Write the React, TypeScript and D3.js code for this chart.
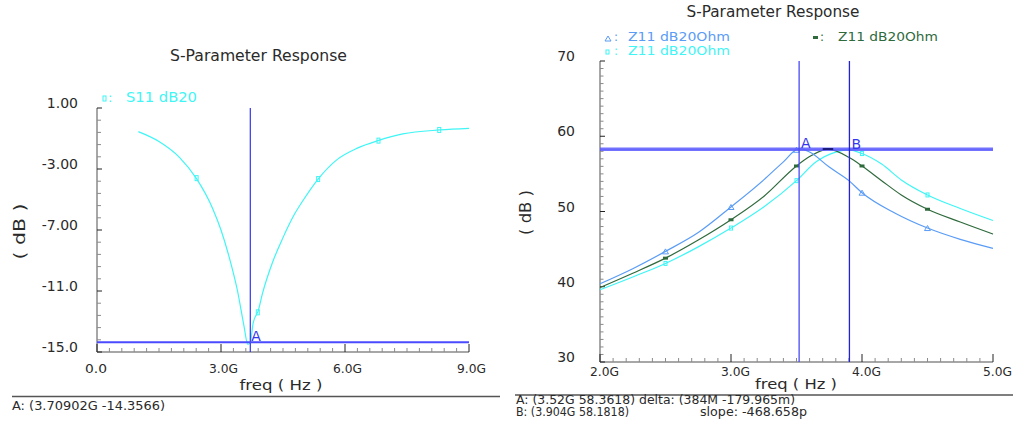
import React from "react";
import * as d3 from "d3";

// ---------- Left panel data: S11 dB20 ----------
const s11Freq = [1.0, 1.5, 2.0, 2.4, 2.8, 3.0, 3.2, 3.4, 3.55, 3.65, 3.71, 3.78, 3.9, 4.0, 4.25, 4.5, 4.75, 5.0, 5.35, 5.8, 6.3, 6.8, 7.4, 8.3, 9.0];
const s11dB = [-0.55, -1.2, -2.25, -3.6, -5.6, -7.0, -8.8, -11.0, -13.2, -14.5, -14.36, -13.07, -12.3, -11.2, -9.1, -7.5, -6.1, -5.0, -3.66, -2.4, -1.63, -1.14, -0.7, -0.44, -0.33];
const s11MarkFreq = [2.41, 3.89, 5.35, 6.81, 8.28];
const s11MarkdB = [-3.6, -12.4, -3.66, -1.14, -0.44];
const leftYTicks = [1.0, -3.0, -7.0, -11.0, -15.0];
const leftYTickLabels = ["1.00", "-3.00", "-7.00", "-11.0", "-15.0"];
const leftXTicks = [0, 3, 6, 9];
const leftXTickLabels = ["0.0", "3.0G", "6.0G", "9.0G"];
const markerA_left = { f: 3.70902, v: -14.3566 };

// ---------- Right panel data: Z11 dB20Ohm (three series) ----------
const blueFreq = [2.0, 2.25, 2.5, 2.75, 3.0, 3.25, 3.4, 3.52, 3.6, 3.75, 3.9, 4.0, 4.25, 4.5, 4.75, 5.0];
const blueVal = [40.4, 42.4, 44.7, 47.2, 50.6, 54.2, 56.6, 58.36, 57.9, 55.9, 54.1, 52.5, 49.8, 47.8, 46.3, 45.1];
const greenFreq = [2.0, 2.25, 2.5, 2.75, 3.0, 3.25, 3.5, 3.6, 3.74, 3.9, 4.0, 4.15, 4.3, 4.5, 4.75, 5.0];
const greenVal = [39.9, 41.8, 43.8, 46.2, 48.9, 52.0, 56.05, 57.3, 58.3, 57.2, 56.05, 54.1, 52.2, 50.3, 48.6, 47.0];
const cyanFreq = [2.0, 2.25, 2.5, 2.75, 3.0, 3.25, 3.5, 3.65, 3.8, 3.9, 4.0, 4.15, 4.3, 4.5, 4.75, 5.0];
const cyanVal = [39.6, 41.3, 43.1, 45.3, 47.8, 50.6, 54.1, 56.6, 57.9, 58.18, 57.7, 56.3, 54.2, 52.2, 50.4, 48.8];
const blueMarkFreq = [2.5, 3.0, 3.5, 4.0, 4.5];
const blueMarkVal = [44.7, 50.6, 58.2, 52.5, 47.8];
const greenMarkFreq = [2.5, 3.0, 3.5, 4.0, 4.5];
const greenMarkVal = [43.8, 48.9, 56.05, 56.05, 50.3];
const cyanMarkFreq = [2.5, 3.0, 3.5, 4.0, 4.5];
const cyanMarkVal = [43.1, 47.8, 54.1, 57.7, 52.2];
const rightYTicks = [70, 60, 50, 40, 30];
const rightXTicks = [2, 3, 4, 5];
const rightXTickLabels = ["2.0G", "3.0G", "4.0G", "5.0G"];
const markerA_right = { f: 3.52, v: 58.3618 };
const markerB_right = { f: 3.904, v: 58.1818 };

const FONT = "'DejaVu Sans', 'Liberation Sans', sans-serif";
const TXT = "#2a2a2a";
const AXIS = "#8a8a8a";
const CYAN = "#3ff5f5";
const BLUE = "#5a9cf6";
const GREEN = "#2f6a3d";
const MARK = "#3535f0";

function zipXY(xs: number[], ys: number[]) {
  return xs.map((x, i) => [x, ys[i]] as [number, number]);
}

export default function App() {
  const lx = d3.scaleLinear().domain([0, 9]).range([97, 469]);
  const ly = d3.scaleLinear().domain([1, -15]).range([108, 352]);
  const rx = d3.scaleLinear().domain([2, 5]).range([600, 993]);
  const ry = d3.scaleLinear().domain([70, 30]).range([61, 362]);

  const lLine = d3.line<[number, number]>().x(d => lx(d[0])).y(d => ly(d[1])).curve(d3.curveMonotoneX);
  const rLine = d3.line<[number, number]>().x(d => rx(d[0])).y(d => ry(d[1])).curve(d3.curveMonotoneX);

  const lyMinor = d3.range(0, 21).map(i => 1 - i * 0.8);
  const lxMinor = d3.range(0, 31).map(i => i * 0.3);
  const ryMinor = d3.range(0, 41).map(i => 30 + i);
  const rxMinor = d3.range(0, 31).map(i => 2 + i * 0.1);

  const isMajor = (v: number, majors: number[]) => majors.some(m => Math.abs(m - v) < 1e-6);
  const xLabelLen = (s: string) => (s.endsWith("G") ? 29 : 22);

  return (
    <svg width={1013} height={421} style={{ position: "absolute", left: 0, top: 0, background: "#fff" }} fontFamily={FONT}>
      {/* ================= LEFT PANEL ================= */}
      <text x={258.5} y={61} textAnchor="middle" fontSize={15} fill={TXT} textLength={177} lengthAdjust="spacingAndGlyphs">S-Parameter Response</text>
      <rect x={103} y={96} width={3} height={5} fill="none" stroke={CYAN} strokeWidth={1} />
      <text x={108} y={101.5} fontSize={13} fill={CYAN}>:</text>
      <text x={126} y={101.5} fontSize={14} fill={CYAN} textLength={71} lengthAdjust="spacingAndGlyphs">S11 dB20</text>

      <line x1={97} y1={108} x2={97} y2={352} stroke={AXIS} strokeWidth={1.5} />
      <line x1={97} y1={352} x2={469} y2={352} stroke={AXIS} strokeWidth={1.5} />
      {lyMinor.map((v, i) => {
        const maj = isMajor(v, leftYTicks);
        return <line key={"lym" + i} x1={97} x2={97 + (maj ? 5 : 4)} y1={ly(v)} y2={ly(v)} stroke={maj ? "#222" : AXIS} strokeWidth={1} />;
      })}
      {lxMinor.map((v, i) => {
        const maj = isMajor(v, leftXTicks);
        return <line key={"lxm" + i} x1={lx(v)} x2={lx(v)} y1={352} y2={352 - (maj ? 8 : 4)} stroke={maj ? "#222" : AXIS} strokeWidth={1} />;
      })}
      {leftYTicks.map((v, i) => (
        <text key={"lyt" + i} x={78} y={ly(v)} textAnchor="end" fontSize={14} fill={TXT}>{leftYTickLabels[i]}</text>
      ))}
      {leftXTicks.map((v, i) => (
        <text key={"lxt" + i} x={lx(v) - 12} y={373} fontSize={13} fill={TXT} textLength={xLabelLen(leftXTickLabels[i])} lengthAdjust="spacingAndGlyphs">{leftXTickLabels[i]}</text>
      ))}
      <text x={281} y={390} textAnchor="middle" fontSize={14} fill={TXT} textLength={83} lengthAdjust="spacingAndGlyphs">freq ( Hz )</text>
      <text transform="translate(25,231.5) rotate(-90)" textAnchor="middle" fontSize={15} fill={TXT} textLength={56} lengthAdjust="spacingAndGlyphs">( dB )</text>

      <path d={lLine(zipXY(s11Freq, s11dB)) || ""} fill="none" stroke={CYAN} strokeWidth={1.2} />
      {s11MarkFreq.map((f, i) => (
        <rect key={"s11m" + i} x={lx(f) - 1.5} y={ly(s11MarkdB[i]) - 2.5} width={3} height={5} fill="none" stroke={CYAN} strokeWidth={1} />
      ))}
      <line x1={lx(markerA_left.f)} x2={lx(markerA_left.f)} y1={108} y2={352} stroke={MARK} strokeWidth={1.2} />
      <line x1={97} x2={469} y1={ly(markerA_left.v)} y2={ly(markerA_left.v)} stroke="#4a4aff" strokeWidth={2} />
      <text x={lx(markerA_left.f) + 1} y={ly(markerA_left.v) - 1} fontSize={14} fill={MARK}>A</text>

      <line x1={12} x2={500} y1={396.5} y2={396.5} stroke="#555" strokeWidth={1.5} />
      <text x={12} y={410} fontSize={12} fill={TXT} textLength={153} lengthAdjust="spacingAndGlyphs">A: (3.70902G -14.3566)</text>

      {/* ================= RIGHT PANEL ================= */}
      <text x={773} y={17} textAnchor="middle" fontSize={15} fill={TXT} textLength={173} lengthAdjust="spacingAndGlyphs">S-Parameter Response</text>
      <path d="M605,41 L608,36 L611,41 Z" fill="none" stroke={BLUE} strokeWidth={1} />
      <text x={614} y={41} fontSize={12} fill={BLUE}>:</text>
      <text x={628} y={41} fontSize={13} fill={BLUE} textLength={102} lengthAdjust="spacingAndGlyphs">Z11 dB20Ohm</text>
      <rect x={606} y={50} width={3} height={4} fill="none" stroke={CYAN} strokeWidth={1} />
      <text x={614} y={54.5} fontSize={12} fill={CYAN}>:</text>
      <text x={628} y={54.5} fontSize={13} fill={CYAN} textLength={102} lengthAdjust="spacingAndGlyphs">Z11 dB20Ohm</text>
      <rect x={813} y={36} width={5} height={3} fill={GREEN} />
      <text x={820} y={41} fontSize={12} fill={GREEN}>:</text>
      <text x={838} y={41} fontSize={13} fill={GREEN} textLength={100} lengthAdjust="spacingAndGlyphs">Z11 dB20Ohm</text>

      <line x1={600} y1={61} x2={600} y2={362} stroke={AXIS} strokeWidth={1.5} />
      <line x1={600} y1={362} x2={993} y2={362} stroke={AXIS} strokeWidth={1.5} />
      {ryMinor.map((v, i) => {
        const maj = isMajor(v, rightYTicks);
        return <line key={"rym" + i} x1={600} x2={600 + (maj ? 5 : 3.5)} y1={ry(v)} y2={ry(v)} stroke={maj ? "#222" : AXIS} strokeWidth={1} />;
      })}
      {rxMinor.map((v, i) => {
        const maj = isMajor(v, rightXTicks);
        return <line key={"rxm" + i} x1={rx(v)} x2={rx(v)} y1={362} y2={362 - (maj ? 8 : 4)} stroke={maj ? "#222" : AXIS} strokeWidth={1} />;
      })}
      {rightYTicks.map((v, i) => (
        <text key={"ryt" + i} x={575} y={ry(v)} textAnchor="end" fontSize={14} fill={TXT}>{String(v)}</text>
      ))}
      {rightXTicks.map((v, i) => (
        <text key={"rxt" + i} x={rx(v) - 10} y={376} fontSize={13} fill={TXT} textLength={29} lengthAdjust="spacingAndGlyphs">{rightXTickLabels[i]}</text>
      ))}
      <text x={796} y={388.5} textAnchor="middle" fontSize={14} fill={TXT} textLength={82} lengthAdjust="spacingAndGlyphs">freq ( Hz )</text>
      <text transform="translate(531,212.5) rotate(-90)" textAnchor="middle" fontSize={15} fill={TXT} textLength={45} lengthAdjust="spacingAndGlyphs">( dB )</text>

      <path d={rLine(zipXY(cyanFreq, cyanVal)) || ""} fill="none" stroke={CYAN} strokeWidth={1.2} />
      <path d={rLine(zipXY(greenFreq, greenVal)) || ""} fill="none" stroke={GREEN} strokeWidth={1.2} />
      <path d={rLine(zipXY(blueFreq, blueVal)) || ""} fill="none" stroke={BLUE} strokeWidth={1.2} />
      {cyanMarkFreq.map((f, i) => (
        <rect key={"cm" + i} x={rx(f) - 1.5} y={ry(cyanMarkVal[i]) - 2} width={3} height={4} fill="none" stroke={CYAN} strokeWidth={1} />
      ))}
      {greenMarkFreq.map((f, i) => (
        <rect key={"gm" + i} x={rx(f) - 2.5} y={ry(greenMarkVal[i]) - 1.5} width={5} height={3} fill={GREEN} />
      ))}
      {blueMarkFreq.map((f, i) => {
        const x = rx(f), y = ry(blueMarkVal[i]);
        return <path key={"bm" + i} d={`M${x - 3},${y + 2.5} L${x},${y - 2.5} L${x + 3},${y + 2.5} Z`} fill="none" stroke={BLUE} strokeWidth={1} />;
      })}

      <line x1={600} x2={993} y1={ry(markerA_right.v)} y2={ry(markerA_right.v)} stroke="#5a5aff" strokeWidth={2} opacity={0.85} />
      <line x1={600} x2={993} y1={ry(markerB_right.v)} y2={ry(markerB_right.v)} stroke="#5a5aff" strokeWidth={2} opacity={0.85} />
      <line x1={rx(markerA_right.f)} x2={rx(markerA_right.f)} y1={61} y2={362} stroke="#4a4af5" strokeWidth={1.3} />
      <line x1={rx(markerB_right.f)} x2={rx(markerB_right.f)} y1={61} y2={362} stroke="#2222dd" strokeWidth={1.3} />
      <line x1={rx(3.7)} x2={rx(3.78)} y1={ry(58.3)} y2={ry(58.3)} stroke="#1a1a7a" strokeWidth={2} />
      <text x={rx(markerA_right.f) + 2} y={ry(markerA_right.v) - 1} fontSize={14} fill={MARK}>A</text>
      <text x={rx(markerB_right.f) + 2} y={ry(markerB_right.v) - 1} fontSize={14} fill={MARK}>B</text>

      <line x1={515} x2={1013} y1={395} y2={395} stroke="#555" strokeWidth={1.5} />
      <text x={516} y={404} fontSize={11.5} fill={TXT} textLength={279} lengthAdjust="spacingAndGlyphs">A: (3.52G 58.3618) delta: (384M -179.965m)</text>
      <text x={516} y={416} fontSize={11.5} fill={TXT} textLength={113} lengthAdjust="spacingAndGlyphs">B: (3.904G 58.1818)</text>
      <text x={700} y={416} fontSize={11.5} fill={TXT} textLength={107} lengthAdjust="spacingAndGlyphs">slope: -468.658p</text>
    </svg>
  );
}
